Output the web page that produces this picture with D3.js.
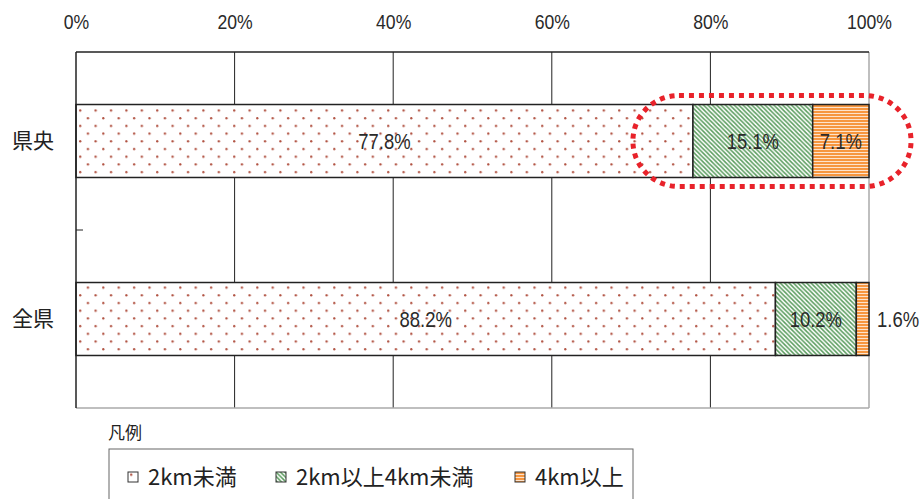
<!DOCTYPE html>
<html>
<head>
<meta charset="utf-8">
<script src="https://cdn.jsdelivr.net/npm/d3@7"></script>
<style>
  body { margin: 0; background: #fff; }
  svg { display: block; }
  .num { font-family: "Liberation Sans", Arial, sans-serif; fill: #2a2a2a; }
  .jp { font-family: "Noto Sans CJK JP", sans-serif; fill: #222; }
</style>
</head>
<body>
<svg id="chart" width="921" height="499"></svg>
<script>
// Share of trips by distance band
const regions = ["県央", "全県"];
const bands = ["2km未満", "2km以上4km未満", "4km以上"];
const under2km = [77.8, 88.2];
const from2to4km = [15.1, 10.2];
const over4km = [7.1, 1.6];
const tickValues = [0, 20, 40, 60, 80, 100];
const legendTitle = "凡例";

const svg = d3.select("#chart");
const margin = { left: 76, right: 52, top: 52, bottom: 91 };
const W = 921, H = 499;
const innerW = W - margin.left - margin.right;
const innerH = H - margin.top - margin.bottom;
const narrow = "scale(0.84,1)";

const x = d3.scaleLinear().domain([0, 100]).range([margin.left, margin.left + innerW]);
const y = d3.scaleBand().domain(regions).range([margin.top, margin.top + innerH])
  .paddingInner(0.59).paddingOuter(0.295);

// fill patterns
const defs = svg.append("defs");
const dots = defs.append("pattern").attr("id", "p-dots").attr("patternUnits", "userSpaceOnUse")
  .attr("width", 15.4).attr("height", 15.4).attr("x", 2).attr("y", 1.5);
dots.append("rect").attr("width", 15.4).attr("height", 15.4).attr("fill", "#fff");
dots.append("circle").attr("cx", 1.2).attr("cy", 1.2).attr("r", 1.15).attr("fill", "#b0503f");
dots.append("circle").attr("cx", 8.9).attr("cy", 8.9).attr("r", 1.15).attr("fill", "#b0503f");

const hatch = defs.append("pattern").attr("id", "p-hatch").attr("patternUnits", "userSpaceOnUse")
  .attr("width", 4.4).attr("height", 4.4);
hatch.append("rect").attr("width", 4.4).attr("height", 4.4).attr("fill", "#fff");
hatch.append("path").attr("d", "M-1.1,-1.1L5.5,5.5M-1.1,3.3L1.1,5.5M3.3,-1.1L5.5,1.1")
  .attr("stroke", "#5a9c5e").attr("stroke-width", 1.5);

const stripes = defs.append("pattern").attr("id", "p-stripes").attr("patternUnits", "userSpaceOnUse")
  .attr("width", 6).attr("height", 3);
stripes.append("rect").attr("width", 6).attr("height", 3).attr("fill", "#f6963f");
stripes.append("rect").attr("y", 2).attr("width", 6).attr("height", 1).attr("fill", "#fde3cc");

const fills = ["url(#p-dots)", "url(#p-hatch)", "url(#p-stripes)"];

// plot frame and grid
svg.append("g").selectAll("line").data(tickValues.slice(1, -1)).join("line")
  .attr("x1", d => x(d)).attr("x2", d => x(d))
  .attr("y1", margin.top).attr("y2", margin.top + innerH)
  .attr("stroke", "#222").attr("stroke-width", 1);
svg.append("line").attr("x1", x(100)).attr("x2", x(100)).attr("y1", margin.top).attr("y2", margin.top + innerH)
  .attr("stroke", "#aaa").attr("stroke-width", 1.5);
svg.append("line").attr("x1", x(0)).attr("x2", x(100)).attr("y1", margin.top + innerH).attr("y2", margin.top + innerH)
  .attr("stroke", "#aaa").attr("stroke-width", 1.5);
svg.append("line").attr("x1", x(0)).attr("x2", x(100)).attr("y1", margin.top).attr("y2", margin.top)
  .attr("stroke", "#222").attr("stroke-width", 1.5);

// top axis labels
const xAxis = d3.axisTop(x).tickValues(tickValues).tickFormat(d => d + "%").tickSize(0).tickPadding(0);
const gx = svg.append("g").attr("transform", `translate(0,${margin.top - 23})`).call(xAxis);
gx.select(".domain").remove();
gx.selectAll("text").attr("class", "num").attr("font-size", 21).attr("fill", "#2a2a2a")
  .attr("transform", narrow);

// left axis: category labels and separator tick
const yAxis = d3.axisLeft(y).tickSize(0).tickPadding(22);
const gy = svg.append("g").attr("transform", `translate(${margin.left},0)`).call(yAxis);
gy.select(".domain").remove();
gy.selectAll("text").attr("class", "jp").attr("font-size", 21).attr("fill", "#222").attr("dy", "0.35em");
svg.append("line").attr("x1", x(0)).attr("x2", x(0) + 7)
  .attr("y1", y(regions[1]) - y.step() * y.paddingInner() / 2)
  .attr("y2", y(regions[1]) - y.step() * y.paddingInner() / 2)
  .attr("stroke", "#222").attr("stroke-width", 1);

// stacked segments
const rows = regions.map((r, i) => ({ region: r, values: [under2km[i], from2to4km[i], over4km[i]] }));
const segs = [];
rows.forEach(row => {
  let acc = 0;
  row.values.forEach((v, k) => {
    segs.push({ region: row.region, k, v, x0: acc, x1: acc + v });
    acc += v;
  });
});

svg.append("g").selectAll("rect").data(segs).join("rect")
  .attr("x", d => x(d.x0)).attr("width", d => x(d.x1) - x(d.x0))
  .attr("y", d => y(d.region)).attr("height", y.bandwidth())
  .attr("fill", d => fills[d.k]).attr("stroke", "#222").attr("stroke-width", 1.5);

// left axis line on top of the bars
svg.append("line").attr("x1", x(0)).attr("x2", x(0)).attr("y1", margin.top).attr("y2", margin.top + innerH)
  .attr("stroke", "#222").attr("stroke-width", 1.5);

// value labels (narrow lettering)
svg.append("g").selectAll("g").data(segs).join("g")
  .attr("transform", d => `translate(${d.v < 5 ? x(d.x1) + 8 : x((d.x0 + d.x1) / 2)},${y(d.region) + y.bandwidth() / 2})`)
  .append("text")
  .attr("class", "num")
  .attr("font-size", 22)
  .attr("transform", narrow)
  .attr("dy", "0.36em")
  .attr("text-anchor", d => d.v < 5 ? "start" : "middle")
  .text(d => d.v.toFixed(1) + "%");

// highlight around the 県央 long-distance segments
const hx0 = x(under2km[0]) - 60, hx1 = x(100) + 42;
const hy0 = y(regions[0]) - 9, hy1 = y(regions[0]) + y.bandwidth() + 9;
svg.append("rect")
  .attr("x", hx0).attr("y", hy0).attr("width", hx1 - hx0).attr("height", hy1 - hy0)
  .attr("rx", 46).attr("ry", 45)
  .attr("fill", "none").attr("stroke", "#e8222a").attr("stroke-width", 5)
  .attr("stroke-dasharray", "5 5");

// legend
svg.append("text").attr("class", "jp").attr("x", 108).attr("y", 439).attr("font-size", 17).text(legendTitle);
svg.append("rect").attr("x", 109).attr("y", 449).attr("width", 524).attr("height", 70)
  .attr("fill", "#fff").attr("stroke", "#666").attr("stroke-width", 1);
const legendX = [128, 276, 515];
const lg = svg.append("g").selectAll("g").data(bands).join("g")
  .attr("transform", (d, i) => `translate(${legendX[i]},472)`);
lg.append("rect").attr("width", 10).attr("height", 10)
  .attr("fill", (d, i) => fills[i]).attr("stroke", "#333").attr("stroke-width", 1);
lg.append("text").attr("class", "jp").attr("x", 20).attr("y", 5).attr("dy", "0.36em")
  .attr("font-size", 22).text(d => d);
</script>
</body>
</html>
